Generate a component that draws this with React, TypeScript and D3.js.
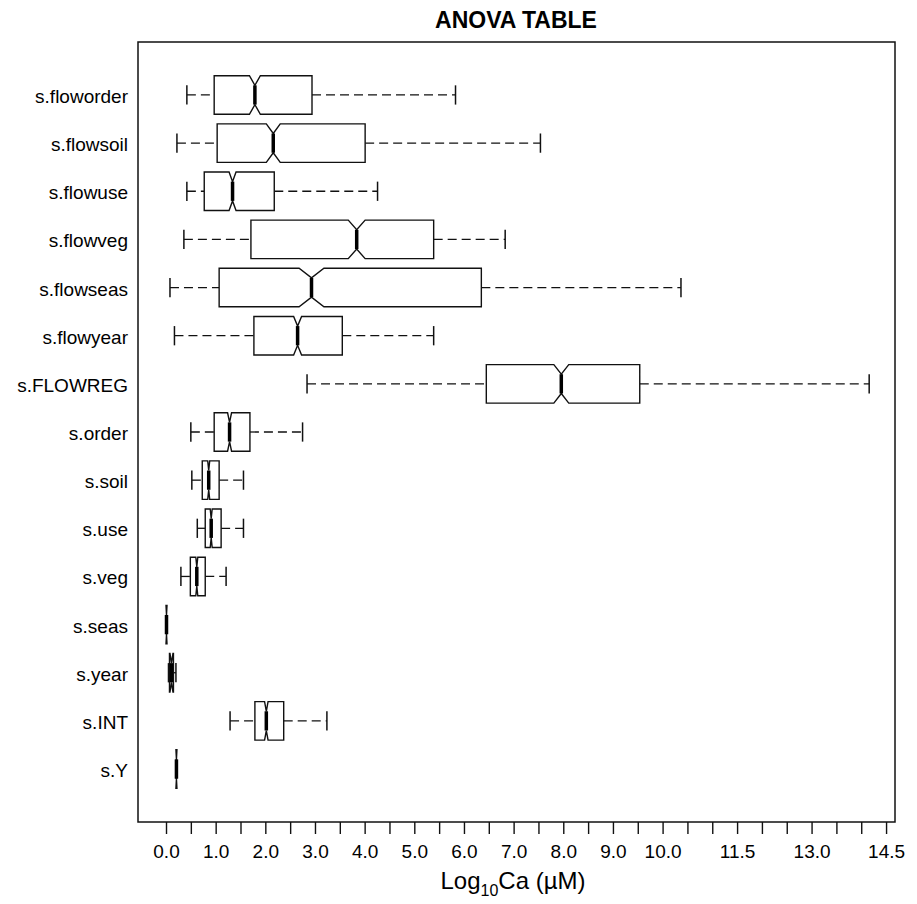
import React, { useEffect, useRef } from "react";
import * as d3 from "d3";

// rows from top to bottom
const categories = [
  "s.floworder", "s.flowsoil", "s.flowuse", "s.flowveg", "s.flowseas", "s.flowyear",
  "s.FLOWREG", "s.order", "s.soil", "s.use", "s.veg", "s.seas", "s.year", "s.INT", "s.Y",
];
const whiskerLow = [0.42, 0.22, 0.42, 0.36, 0.08, 0.17, 2.84, 0.5, 0.52, 0.63, 0.3, 0.01, 0.05, 1.29, 0.21];
const lowerHinge = [0.97, 1.03, 0.77, 1.71, 1.07, 1.77, 6.45, 0.97, 0.73, 0.79, 0.49, 0.01, 0.07, 1.79, 0.21];
const medians = [1.79, 2.16, 1.34, 3.84, 2.93, 2.65, 7.96, 1.28, 0.86, 0.91, 0.62, 0.01, 0.11, 2.02, 0.21];
const upperHinge = [2.94, 4.01, 2.18, 5.39, 6.35, 3.55, 9.54, 1.69, 1.07, 1.11, 0.79, 0.01, 0.15, 2.37, 0.21];
const whiskerHigh = [5.83, 7.54, 4.26, 6.83, 10.37, 5.39, 14.16, 2.75, 1.56, 1.56, 1.21, 0.01, 0.2, 3.24, 0.21];
const notchHalf = [0.11, 0.14, 0.07, 0.17, 0.25, 0.08, 0.15, 0.04, 0.02, 0.02, 0.02, 0.01, 0.03, 0.035, 0.01];

const tickValues = [
  0, 0.5, 1, 1.5, 2, 2.5, 3, 3.5, 4, 4.5, 5, 5.5, 6, 6.5, 7, 7.5, 8, 8.5, 9, 9.5,
  10, 10.5, 11, 11.5, 12, 12.5, 13, 13.5, 14, 14.5,
];
const labeledTicks = [0, 1, 2, 3, 4, 5, 6, 7, 8, 9, 10, 11.5, 13, 14.5];

const FONT = "'Liberation Sans', Arial, sans-serif";

export default function App() {
  const ref = useRef<SVGSVGElement>(null);

  useEffect(() => {
    const svg = d3.select(ref.current);
    svg.selectAll("*").remove();

    const frame = { left: 138, top: 42, right: 895, bottom: 822 };
    const n = categories.length;

    const x = d3.scaleLinear().domain([-0.564, 14.68]).range([frame.left, frame.right]);
    const y = d3.scaleLinear().domain([-0.1, n + 1.1]).range([frame.bottom, frame.top]);
    const pos = (i: number) => y(n - i);
    const half = y(0) - y(0.4);

    svg.append("rect").attr("width", 917).attr("height", 904).attr("fill", "white");

    svg.append("text")
      .attr("x", 516).attr("y", 28)
      .attr("text-anchor", "middle")
      .style("font-family", FONT).style("font-size", "23px").style("font-weight", "bold")
      .text("ANOVA TABLE");

    const rows = svg.append("g").attr("class", "rows");

    categories.forEach((cat, i) => {
      const cy = pos(i);
      const g = rows.append("g");

      // whiskers
      g.append("line")
        .attr("x1", x(whiskerLow[i])).attr("x2", x(lowerHinge[i]))
        .attr("y1", cy).attr("y2", cy)
        .attr("stroke", "#111").attr("stroke-width", 1.3).attr("stroke-dasharray", "9,5");
      g.append("line")
        .attr("x1", x(upperHinge[i])).attr("x2", x(whiskerHigh[i]))
        .attr("y1", cy).attr("y2", cy)
        .attr("stroke", "#111").attr("stroke-width", 1.3).attr("stroke-dasharray", "9,5");

      // staples
      [whiskerLow[i], whiskerHigh[i]].forEach((v) => {
        g.append("line")
          .attr("x1", x(v)).attr("x2", x(v))
          .attr("y1", cy - half / 2).attr("y2", cy + half / 2)
          .attr("stroke", "#111").attr("stroke-width", 1.5);
      });

      // notched box
      const c1 = medians[i] - notchHalf[i];
      const c2 = medians[i] + notchHalf[i];
      const pts: [number, number][] = [
        [lowerHinge[i], -1], [c1, -1], [medians[i], -0.5], [c2, -1], [upperHinge[i], -1],
        [upperHinge[i], 1], [c2, 1], [medians[i], 0.5], [c1, 1], [lowerHinge[i], 1],
      ];
      const line = d3.line<[number, number]>()
        .x((d) => x(d[0]))
        .y((d) => cy + d[1] * half);
      g.append("path")
        .attr("d", line(pts) + "Z")
        .attr("fill", "white")
        .attr("stroke", "#111").attr("stroke-width", 1.4)
        .attr("stroke-linejoin", "miter");

      // median
      g.append("line")
        .attr("x1", x(medians[i])).attr("x2", x(medians[i]))
        .attr("y1", cy - half / 2).attr("y2", cy + half / 2)
        .attr("stroke", "#000").attr("stroke-width", 3.5);

      // label
      svg.append("text")
        .attr("x", 128).attr("y", cy + 8)
        .attr("text-anchor", "end")
        .style("font-family", FONT).style("font-size", "19px")
        .text(cat);
    });

    // frame
    svg.append("rect")
      .attr("x", frame.left).attr("y", frame.top)
      .attr("width", frame.right - frame.left).attr("height", frame.bottom - frame.top)
      .attr("fill", "none").attr("stroke", "#111").attr("stroke-width", 1.5);

    const axis = svg.append("g")
      .attr("transform", `translate(0, ${frame.bottom})`)
      .call(
        d3.axisBottom(x)
          .tickValues(tickValues)
          .tickSize(12)
          .tickSizeOuter(0)
          .tickFormat((d) => (labeledTicks.includes(+d) ? d3.format(".1f")(+d) : ""))
      );
    axis.select(".domain").remove();
    axis.selectAll(".tick line").attr("stroke", "#111").attr("stroke-width", 1.4);
    axis.selectAll(".tick text")
      .attr("y", 36).attr("dy", null)
      .attr("fill", "#000")
      .style("font-family", FONT).style("font-size", "19px");

    const title = svg.append("text")
      .attr("x", 513).attr("y", 889)
      .attr("text-anchor", "middle")
      .style("font-family", FONT).style("font-size", "24px");
    title.append("tspan").text("Log");
    title.append("tspan").attr("dy", 7).style("font-size", "16px").text("10");
    title.append("tspan").attr("dy", -7).text("Ca (\u00b5M)");
  }, []);

  return (
    <svg ref={ref} width={917} height={904} style={{ position: "absolute", left: 0, top: 0 }} />
  );
}
